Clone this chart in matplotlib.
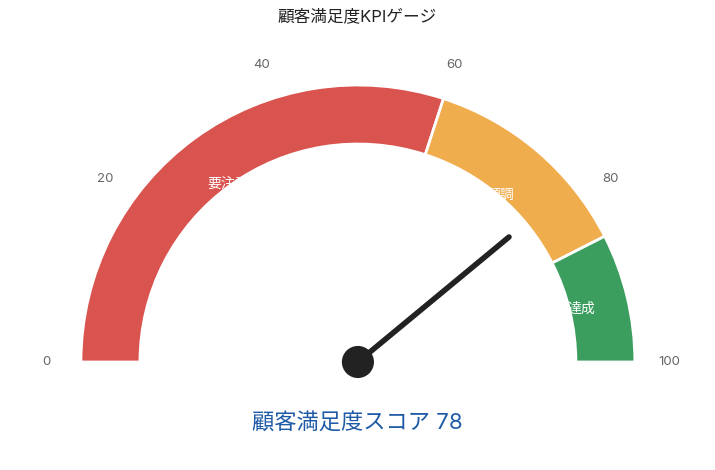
import numpy as np
import matplotlib.pyplot as plt
from matplotlib.patches import Wedge, Circle

plt.rcParams['font.family'] = ['Inter', 'Noto Sans CJK JP', 'DejaVu Sans']

# gauge data
band_edges = [0, 60, 85, 100]
band_labels = ['要注意', '順調', '達成']
band_colors = ['#d9534f', '#f0ad4e', '#3b9e5f']
tick_values = [0, 20, 40, 60, 80, 100]
score = 78
title = '顧客満足度KPIゲージ'
score_label = '顧客満足度スコア'

R_OUT = 1.0
R_IN = 0.787


def to_angle(v):
    # 0 -> 180 deg (left), 100 -> 0 deg (right)
    return 180 - v / 100 * 180


fig = plt.figure(figsize=(7.15, 4.7), dpi=100)
ax = fig.add_axes([0, 0, 1, 1])
ax.set_xlim(-1.292, 1.289)
ax.set_ylim(-0.390, 1.307)
ax.set_aspect('equal')
ax.axis('off')

for i in range(len(band_labels)):
    a1 = to_angle(band_edges[i + 1])
    a2 = to_angle(band_edges[i])
    w = Wedge((0, 0), R_OUT, a1, a2, width=R_OUT - R_IN,
              facecolor=band_colors[i], edgecolor='white', linewidth=2, zorder=1)
    ax.add_patch(w)
    mid = (band_edges[i] + band_edges[i + 1]) / 2
    t = np.radians(to_angle(mid))
    # labels sit on the inner edge, partly hidden by the white disk
    r = 0.795 if i < 2 else 0.83
    ax.text(r * np.cos(t), r * np.sin(t), band_labels[i], color='white',
            fontsize=10, ha='center', va='center', zorder=2)

# inner white disk
ax.add_patch(Circle((0, 0), R_IN, facecolor='white', edgecolor='none', zorder=3))

for v in tick_values:
    t = np.radians(to_angle(v))
    ax.text(1.126 * np.cos(t), 1.126 * np.sin(t), str(v), color='#666666',
            fontsize=9.5, ha='center', va='center')

# needle
t = np.radians(to_angle(score))
ax.plot([0, 0.708 * np.cos(t)], [0, 0.708 * np.sin(t)], color='#222222',
        linewidth=4, solid_capstyle='round', zorder=4)
ax.add_patch(Circle((0, 0), 0.058, facecolor='#222222', zorder=5))

fig.text(0.5, 0.966, title, ha='center', va='center', fontsize=12, color='#222222')
fig.text(0.5, 0.1, f'{score_label} {score}', ha='center', va='center',
         fontsize=16, color='#1f5aa6')

fig.savefig('out.png', dpi=100)
